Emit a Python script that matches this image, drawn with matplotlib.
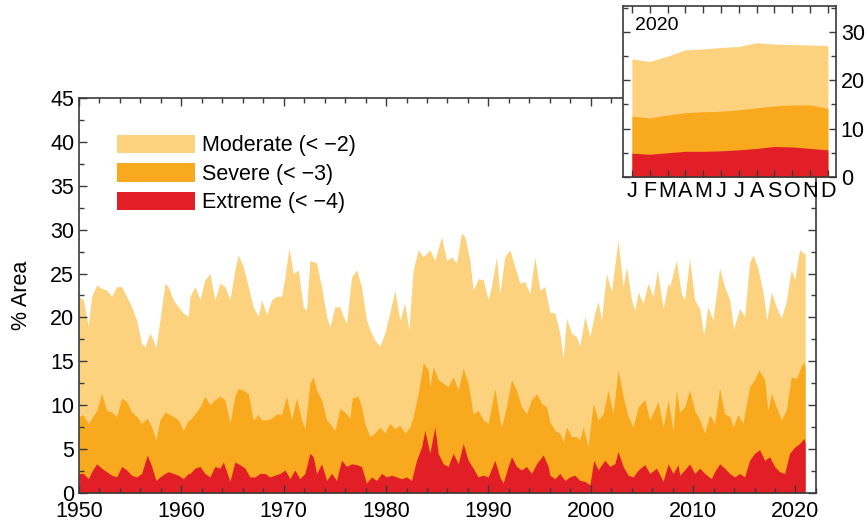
import matplotlib.pyplot as plt
from matplotlib.patches import Patch
from matplotlib.ticker import MultipleLocator

plt.rcParams['font.family'] = ['Liberation Sans', 'DejaVu Sans']

# monthly drought area (% of area)
mod_years = [1950.0, 1950.42, 1950.91, 1951.24, 1951.73, 1952.21, 1952.7, 1953.19, 1953.68, 1954.17,
             1954.65, 1955.14, 1955.63, 1956.12, 1956.45, 1956.93, 1957.26, 1957.52, 1957.91, 1958.4,
             1958.72, 1959.21, 1959.7, 1960.19, 1960.68,
             1960.84, 1961.33, 1961.82, 1962.3, 1962.79, 1963.28, 1963.77, 1964.26, 1964.75, 1965.23,
             1965.56, 1966.05, 1966.54, 1967.02, 1967.51, 1967.84, 1968.33, 1968.82, 1969.3, 1969.79,
             1970.12, 1970.51, 1970.93, 1971.42, 1971.91, 1972.23,
             1972.56, 1973.21, 1973.7, 1974.19, 1974.51, 1975.0, 1975.49, 1975.82, 1976.14, 1976.63,
             1977.12, 1977.6, 1978.09, 1978.42, 1978.91, 1979.4, 1979.88, 1980.37, 1980.86, 1981.35,
             1981.84, 1982.23, 1982.65, 1983.14, 1983.63, 1984.12,
             1984.28, 1984.77, 1985.42, 1985.91, 1986.4, 1986.88, 1987.37, 1987.7, 1988.19, 1988.51,
             1989.0, 1989.49, 1989.98, 1990.3, 1990.79, 1991.12, 1991.6, 1992.09, 1992.58, 1993.07,
             1993.56, 1994.05, 1994.53, 1995.02, 1995.51,
             1996.0, 1996.49, 1996.98, 1997.3, 1997.63, 1998.12, 1998.6, 1998.93, 1999.42, 1999.91,
             2000.39, 2000.72, 2001.05, 2001.53, 2002.02, 2002.67, 2003.16, 2003.49, 2003.98, 2004.3,
             2004.63, 2005.11, 2005.6, 2006.09, 2006.51, 2007.07, 2007.56,
             2007.71, 2008.36, 2008.85, 2009.17, 2009.66, 2010.15, 2010.64, 2011.03, 2011.45, 2011.94,
             2012.59, 2013.08, 2013.57, 2013.96, 2014.55, 2015.03, 2015.52, 2015.85, 2016.34, 2016.82,
             2017.21, 2017.64, 2018.13, 2018.61, 2019.1, 2019.59, 2019.92, 2020.4, 2020.83, 2020.95]
mod_vals = [22.4, 22.0, 19.0, 22.4, 23.7, 23.3, 23.1, 22.4, 23.5, 23.5,
            22.4, 21.2, 19.7, 17.0, 16.7, 18.2, 17.4, 16.5, 19.7, 23.9,
            23.5, 22.0, 21.2, 20.5, 20.1,
            22.4, 23.5, 22.0, 24.3, 25.0, 22.0, 23.9, 23.5, 22.0, 25.4,
            27.1, 25.8, 23.5, 21.2, 20.1, 22.0, 20.3, 22.0, 22.4, 22.4,
            24.6, 27.9, 25.0, 25.4, 21.2, 20.8,
            26.5, 26.2, 23.5, 20.1, 18.9, 21.2, 21.2, 20.1, 19.3, 24.6,
            25.4, 23.5, 19.7, 18.6, 17.4, 16.7, 18.2, 20.5, 23.1, 19.7,
            21.6, 18.6, 25.4, 27.7, 26.9, 27.5,
            27.7, 26.5, 29.2, 26.5, 26.9, 26.2, 29.6, 29.2, 26.5, 23.1,
            24.4, 24.3, 22.0, 23.5, 26.9, 22.7, 26.9, 27.7, 25.8, 23.9,
            24.1, 22.7, 26.9, 23.1, 23.5,
            20.6, 20.5, 18.2, 15.3, 19.9, 18.2, 17.8, 16.7, 20.1, 17.8,
            20.5, 21.8, 19.7, 25.0, 22.9, 28.8, 23.5, 25.8, 22.0, 20.8,
            22.9, 21.6, 23.9, 22.4, 25.4, 21.0, 23.9,
            23.5, 26.5, 22.7, 22.0, 26.7, 22.0, 21.0, 18.0, 21.2, 19.7,
            25.6, 23.5, 22.0, 18.7, 21.0, 20.1, 26.3, 27.1, 25.6, 22.9,
            19.7, 22.9, 21.2, 19.9, 21.8, 25.4, 24.3, 27.7, 27.3, 27.2]

sev_years = [1950.0, 1950.42, 1950.91, 1951.24, 1951.73, 1952.21, 1952.7, 1953.19, 1953.68, 1954.17,
             1954.65, 1955.14, 1955.63, 1956.12, 1956.67, 1957.1, 1957.52, 1957.91, 1958.4, 1958.72,
             1959.21, 1959.7, 1960.19, 1960.68,
             1960.84, 1961.33, 1961.82, 1962.3, 1962.79, 1963.28, 1963.77, 1964.26, 1964.75, 1965.23,
             1965.56, 1966.05, 1966.54, 1967.02, 1967.51, 1967.84, 1968.33, 1968.82, 1969.3, 1969.79,
             1970.28, 1970.77, 1971.26, 1971.75, 1972.07,
             1972.56, 1972.89, 1973.21, 1973.7, 1974.19, 1974.51, 1975.0, 1975.49, 1975.98, 1976.47,
             1976.69, 1977.28, 1977.6, 1977.93, 1978.42, 1978.91, 1979.4, 1979.88, 1980.37, 1980.86,
             1981.35, 1981.84, 1982.33, 1982.65, 1983.14, 1983.63, 1984.12,
             1984.28, 1984.61, 1985.09, 1985.58, 1986.07, 1986.56, 1987.05, 1987.54, 1988.02, 1988.51,
             1989.0, 1989.49, 1989.98, 1990.63, 1991.12, 1991.28, 1991.77, 1992.26, 1992.74, 1993.23,
             1993.72, 1994.21, 1994.7, 1995.19, 1995.67,
             1996.0, 1996.49, 1996.98, 1997.3, 1997.63, 1998.12, 1998.6, 1998.93, 1999.26, 1999.74,
             2000.23, 2000.72, 2001.21, 2001.7, 2002.18, 2002.67, 2003.16, 2003.65, 2004.14, 2004.63,
             2005.28, 2005.77, 2006.58, 2007.07, 2007.56, 2008.04, 2008.37,
             2008.69, 2009.17, 2009.66, 2010.15, 2010.64, 2011.13, 2011.62, 2012.1, 2012.59, 2013.08,
             2013.57, 2013.9, 2014.38, 2014.87, 2015.52, 2016.01, 2016.43, 2016.99, 2017.31, 2017.64,
             2018.13, 2018.61, 2019.1, 2019.59, 2020.08, 2020.57, 2020.83, 2020.95]
sev_vals = [8.7, 8.9, 7.9, 8.5, 9.4, 11.3, 9.4, 9.2, 8.7, 10.8,
            10.4, 9.2, 8.7, 7.9, 8.5, 7.5, 6.0, 8.3, 9.2, 9.0,
            8.7, 8.3, 7.1, 8.3,
            8.3, 9.0, 9.8, 11.0, 10.0, 10.6, 11.0, 10.6, 7.9, 11.0,
            11.9, 11.7, 11.3, 8.3, 8.9, 8.3, 8.3, 8.5, 9.0, 8.9,
            11.0, 8.3, 10.8, 8.3, 7.3,
            12.5, 13.2, 11.7, 10.6, 8.3, 7.9, 7.1, 9.6, 9.2, 8.5,
            10.8, 11.0, 9.8, 7.9, 6.4, 6.8, 7.5, 6.8, 7.9, 7.3,
            7.7, 6.8, 7.5, 8.7, 11.3, 14.8, 14.0,
            12.1, 14.4, 12.9, 12.5, 12.1, 13.2, 11.7, 14.2, 12.5, 9.0,
            9.4, 8.3, 7.9, 11.9, 8.3, 7.5, 9.8, 12.9, 11.7, 9.8,
            9.0, 10.6, 11.3, 10.2, 9.8,
            8.1, 7.1, 6.8, 5.8, 7.5, 6.4, 6.4, 6.0, 7.5, 5.2,
            10.2, 8.3, 9.0, 11.7, 9.0, 14.0, 11.0, 8.7, 7.5, 9.8,
            10.6, 8.3, 10.4, 7.5, 10.6, 7.1, 11.7,
            9.2, 9.8, 11.7, 9.4, 8.3, 6.8, 8.9, 7.9, 11.9, 9.0,
            8.7, 7.5, 8.9, 7.9, 12.1, 12.9, 14.0, 12.9, 9.4, 11.3,
            9.8, 8.3, 9.4, 13.2, 13.0, 14.4, 14.9, 14.3]

ext_years = [1950.0, 1950.42, 1950.91, 1951.24, 1951.73, 1952.21, 1952.7, 1953.19, 1953.68, 1954.17,
             1954.65, 1955.14, 1955.63, 1956.12, 1956.67, 1957.1, 1957.52, 1957.91, 1958.4, 1958.72,
             1959.21, 1959.7, 1960.19, 1960.68,
             1960.84, 1961.33, 1961.82, 1962.3, 1962.79, 1963.28, 1963.77, 1964.1, 1964.75, 1965.23,
             1965.72, 1966.21, 1966.7, 1967.19, 1967.68, 1968.16, 1968.65, 1969.14, 1969.63, 1970.12,
             1970.61, 1971.09, 1971.58, 1972.07,
             1972.56, 1972.89, 1973.21, 1973.7, 1974.19, 1974.68, 1975.16, 1975.65, 1976.14, 1976.63,
             1977.12, 1977.6, 1978.09, 1978.58, 1979.07, 1979.56, 1980.05, 1980.54, 1981.02, 1981.51,
             1982.0, 1982.49, 1982.98, 1983.47, 1983.79,
             1984.28, 1984.77, 1985.09, 1985.58, 1986.07, 1986.56, 1987.05, 1987.54, 1988.02, 1988.51,
             1989.0, 1989.49, 1989.98, 1990.63, 1991.12, 1991.44, 1991.93, 1992.26, 1992.74, 1993.23,
             1993.72, 1994.21, 1994.7, 1995.35, 1995.84,
             1996.0, 1996.49, 1996.98, 1997.46, 1997.95, 1998.44, 1998.93, 1999.42, 1999.91, 2000.3,
             2000.72, 2001.37, 2001.86, 2002.35, 2002.67, 2003.16, 2003.65, 2004.14, 2004.63, 2005.28,
             2005.77, 2006.42, 2007.07, 2007.56, 2008.04, 2008.53,
             2008.69, 2009.17, 2009.66, 2010.15, 2010.64, 2011.13, 2011.78, 2012.1, 2012.59, 2013.08,
             2013.57, 2014.06, 2014.55, 2015.03, 2015.52, 2016.01, 2016.5, 2016.99, 2017.48, 2017.96,
             2018.45, 2018.94, 2019.43, 2019.92, 2020.4, 2020.83, 2020.95]
ext_vals = [2.2, 2.2, 1.6, 2.4, 3.3, 2.8, 2.4, 2.0, 1.8, 3.0,
            2.6, 2.0, 1.8, 2.2, 4.3, 3.0, 1.4, 1.8, 2.2, 2.4,
            2.2, 2.0, 1.6, 2.2,
            2.2, 2.8, 3.0, 2.2, 1.8, 3.0, 2.8, 3.5, 1.3, 3.5,
            3.2, 2.8, 1.8, 1.8, 2.2, 2.2, 1.8, 2.0, 2.2, 2.6,
            1.6, 2.6, 1.6, 2.2,
            4.5, 4.1, 2.2, 3.3, 1.4, 2.2, 1.4, 3.7, 3.0, 3.3,
            3.2, 3.0, 1.1, 1.8, 1.4, 2.2, 1.8, 2.0, 1.8, 1.6,
            1.8, 1.4, 3.7, 5.2, 7.1,
            4.5, 7.5, 4.5, 3.3, 3.0, 4.5, 3.3, 5.6, 3.7, 2.8,
            1.8, 2.0, 1.8, 3.7, 1.8, 1.1, 3.0, 4.1, 3.0, 2.6,
            3.0, 2.2, 3.3, 4.3, 3.0,
            2.0, 1.6, 2.2, 1.4, 1.8, 2.0, 1.4, 1.3, 0.9, 3.7,
            2.6, 3.7, 3.0, 3.3, 4.7, 3.0, 2.0, 1.8, 2.6, 3.2,
            2.2, 2.8, 1.3, 3.3, 2.2, 3.2,
            2.0, 2.6, 3.3, 2.2, 2.8, 2.2, 1.6, 2.4, 3.3, 2.8,
            2.2, 1.8, 2.2, 1.8, 3.7, 4.5, 4.9, 3.7, 4.1, 3.0,
            2.4, 2.2, 4.5, 5.2, 5.6, 6.2, 5.7]

# 2020 inset, monthly
months = ['J', 'F', 'M', 'A', 'M', 'J', 'J', 'A', 'S', 'O', 'N', 'D']
mod_2020 = [24.4, 23.9, 25.0, 26.3, 26.5, 26.8, 27.0, 27.8, 27.5, 27.4, 27.3, 27.2]
sev_2020 = [12.6, 12.2, 12.8, 13.3, 13.5, 13.6, 13.9, 14.3, 14.7, 14.9, 14.9, 14.2]
ext_2020 = [4.9, 4.7, 5.0, 5.3, 5.3, 5.4, 5.6, 5.9, 6.3, 6.2, 5.9, 5.6]

labels = ['Moderate (< \u22122)', 'Severe (< \u22123)', 'Extreme (< \u22124)']
colors = ['#FDD27F', '#F9A91D', '#E21F27']
spine_col = '#3a3a3a'

fig = plt.figure(figsize=(8.68, 5.25), dpi=100)
ax = fig.add_axes([0.091, 0.0615, 0.849, 0.7515])

for yrs, vals, c in zip([mod_years, sev_years, ext_years], [mod_vals, sev_vals, ext_vals], colors):
    ax.fill_between(yrs, 0, vals, color=c, linewidth=0)

ax.set_xlim(1950, 2022)
ax.set_ylim(0, 45)
ax.xaxis.set_major_locator(MultipleLocator(10))
ax.xaxis.set_minor_locator(MultipleLocator(2))
ax.yaxis.set_major_locator(MultipleLocator(5))
ax.yaxis.set_minor_locator(MultipleLocator(2.5))
ax.tick_params(which='both', direction='in', top=True, right=True, colors=spine_col,
               labelcolor='black', labelsize=15.5, width=1)
ax.tick_params(which='major', length=6)
ax.tick_params(which='minor', length=3.5)
ax.tick_params(axis='x', pad=6)
for s in ax.spines.values():
    s.set_color(spine_col)
    s.set_linewidth(1.2)
ax.set_ylabel('% Area', fontsize=15.5)
ax.yaxis.set_label_coords(-0.064, 0.5)

handles = [Patch(facecolor=c, edgecolor='none') for c in colors]
ax.legend(handles, labels, loc='upper left', bbox_to_anchor=(0.0516, 0.907), frameon=False,
          fontsize=15.5, handlelength=3.6, handleheight=0.93, handletextpad=0.35,
          labelspacing=0.32, borderpad=0, borderaxespad=0)

# inset for 2020
axi = fig.add_axes([0.7177, 0.663, 0.2454, 0.3257])
mx = list(range(len(months)))
for vals, c in zip([mod_2020, sev_2020, ext_2020], colors):
    axi.fill_between(mx, 0, vals, color=c, linewidth=0)
axi.set_xlim(-0.5, 11.45)
axi.set_ylim(0, 35.4)
axi.set_xticks(mx)
axi.set_xticklabels(months)
axi.yaxis.set_major_locator(MultipleLocator(10))
axi.yaxis.set_minor_locator(MultipleLocator(5))
axi.yaxis.tick_right()
axi.tick_params(which='both', direction='in', top=True, left=True, right=True, colors=spine_col,
                labelcolor='black', labelsize=15.5, width=1)
axi.tick_params(which='major', length=5)
axi.tick_params(which='minor', length=3.5)
axi.tick_params(axis='x', pad=3)
for s in axi.spines.values():
    s.set_color(spine_col)
    s.set_linewidth(1.2)
axi.text(0.056, 0.935, '2020', transform=axi.transAxes, fontsize=14, va='top', ha='left')

fig.savefig('out.png', dpi=100)
